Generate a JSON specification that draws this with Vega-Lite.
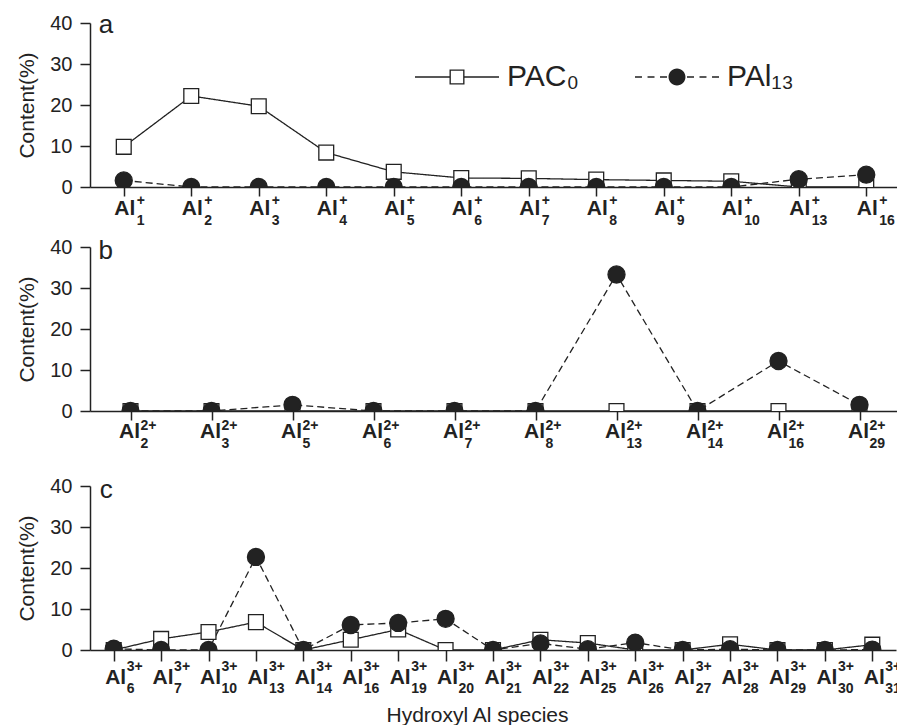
{
  "$schema": "https://vega.github.io/schema/vega-lite/v6.json",
  "padding": {"left": 16, "top": 12, "right": 0, "bottom": 0},
  "background": "white",
  "config": {
    "view": {"stroke": null},
    "font": "Liberation Sans",
    "axis": {"domainColor": "#222", "domainWidth": 1.5, "tickColor": "#222", "tickWidth": 1.5, "labelFont": "Liberation Sans", "titleFont": "Liberation Sans", "labelColor": "#222", "titleColor": "#222", "grid": false}
  },
  "datasets": {
    "a": [
      {"cat": "Al1", "s": "PAC0", "v": 9.8}, {"cat": "Al2", "s": "PAC0", "v": 22.2}, {"cat": "Al3", "s": "PAC0", "v": 19.7}, {"cat": "Al4", "s": "PAC0", "v": 8.4}, {"cat": "Al5", "s": "PAC0", "v": 3.7}, {"cat": "Al6", "s": "PAC0", "v": 2.2}, {"cat": "Al7", "s": "PAC0", "v": 2.1}, {"cat": "Al8", "s": "PAC0", "v": 1.8}, {"cat": "Al9", "s": "PAC0", "v": 1.6}, {"cat": "Al10", "s": "PAC0", "v": 1.4}, {"cat": "Al13", "s": "PAC0", "v": 0}, {"cat": "Al16", "s": "PAC0", "v": 0},
      {"cat": "Al1", "s": "PAl13", "v": 1.6}, {"cat": "Al2", "s": "PAl13", "v": 0}, {"cat": "Al3", "s": "PAl13", "v": 0}, {"cat": "Al4", "s": "PAl13", "v": 0}, {"cat": "Al5", "s": "PAl13", "v": 0}, {"cat": "Al6", "s": "PAl13", "v": 0}, {"cat": "Al7", "s": "PAl13", "v": 0}, {"cat": "Al8", "s": "PAl13", "v": 0}, {"cat": "Al9", "s": "PAl13", "v": 0}, {"cat": "Al10", "s": "PAl13", "v": 0}, {"cat": "Al13", "s": "PAl13", "v": 1.9}, {"cat": "Al16", "s": "PAl13", "v": 3.0}
    ],
    "aLab": [
      {"cat": "Al1", "n": "1", "q": "+"}, {"cat": "Al2", "n": "2", "q": "+"}, {"cat": "Al3", "n": "3", "q": "+"}, {"cat": "Al4", "n": "4", "q": "+"}, {"cat": "Al5", "n": "5", "q": "+"}, {"cat": "Al6", "n": "6", "q": "+"}, {"cat": "Al7", "n": "7", "q": "+"}, {"cat": "Al8", "n": "8", "q": "+"}, {"cat": "Al9", "n": "9", "q": "+"}, {"cat": "Al10", "n": "10", "q": "+"}, {"cat": "Al13", "n": "13", "q": "+"}, {"cat": "Al16", "n": "16", "q": "+"}
    ],
    "b": [
      {"cat": "Al2", "s": "PAC0", "v": 0}, {"cat": "Al3", "s": "PAC0", "v": 0}, {"cat": "Al5", "s": "PAC0", "v": 0}, {"cat": "Al6", "s": "PAC0", "v": 0}, {"cat": "Al7", "s": "PAC0", "v": 0}, {"cat": "Al8", "s": "PAC0", "v": 0}, {"cat": "Al13", "s": "PAC0", "v": 0}, {"cat": "Al14", "s": "PAC0", "v": 0}, {"cat": "Al16", "s": "PAC0", "v": 0}, {"cat": "Al29", "s": "PAC0", "v": 0},
      {"cat": "Al2", "s": "PAl13", "v": 0}, {"cat": "Al3", "s": "PAl13", "v": 0}, {"cat": "Al5", "s": "PAl13", "v": 1.5}, {"cat": "Al6", "s": "PAl13", "v": 0}, {"cat": "Al7", "s": "PAl13", "v": 0}, {"cat": "Al8", "s": "PAl13", "v": 0}, {"cat": "Al13", "s": "PAl13", "v": 33.3}, {"cat": "Al14", "s": "PAl13", "v": 0}, {"cat": "Al16", "s": "PAl13", "v": 12.2}, {"cat": "Al29", "s": "PAl13", "v": 1.5}
    ],
    "bLab": [
      {"cat": "Al2", "n": "2", "q": "2+"}, {"cat": "Al3", "n": "3", "q": "2+"}, {"cat": "Al5", "n": "5", "q": "2+"}, {"cat": "Al6", "n": "6", "q": "2+"}, {"cat": "Al7", "n": "7", "q": "2+"}, {"cat": "Al8", "n": "8", "q": "2+"}, {"cat": "Al13", "n": "13", "q": "2+"}, {"cat": "Al14", "n": "14", "q": "2+"}, {"cat": "Al16", "n": "16", "q": "2+"}, {"cat": "Al29", "n": "29", "q": "2+"}
    ],
    "c": [
      {"cat": "Al6", "s": "PAC0", "v": 0}, {"cat": "Al7", "s": "PAC0", "v": 2.7}, {"cat": "Al10", "s": "PAC0", "v": 4.4}, {"cat": "Al13", "s": "PAC0", "v": 6.8}, {"cat": "Al14", "s": "PAC0", "v": 0}, {"cat": "Al16", "s": "PAC0", "v": 2.5}, {"cat": "Al19", "s": "PAC0", "v": 5.0}, {"cat": "Al20", "s": "PAC0", "v": 0}, {"cat": "Al21", "s": "PAC0", "v": 0}, {"cat": "Al22", "s": "PAC0", "v": 2.5}, {"cat": "Al25", "s": "PAC0", "v": 1.7}, {"cat": "Al26", "s": "PAC0", "v": 0}, {"cat": "Al27", "s": "PAC0", "v": 0}, {"cat": "Al28", "s": "PAC0", "v": 1.4}, {"cat": "Al29", "s": "PAC0", "v": 0}, {"cat": "Al30", "s": "PAC0", "v": 0}, {"cat": "Al31", "s": "PAC0", "v": 1.3},
      {"cat": "Al6", "s": "PAl13", "v": 0.3}, {"cat": "Al7", "s": "PAl13", "v": 0}, {"cat": "Al10", "s": "PAl13", "v": 0}, {"cat": "Al13", "s": "PAl13", "v": 22.7}, {"cat": "Al14", "s": "PAl13", "v": 0}, {"cat": "Al16", "s": "PAl13", "v": 6.1}, {"cat": "Al19", "s": "PAl13", "v": 6.6}, {"cat": "Al20", "s": "PAl13", "v": 7.6}, {"cat": "Al21", "s": "PAl13", "v": 0}, {"cat": "Al22", "s": "PAl13", "v": 1.6}, {"cat": "Al25", "s": "PAl13", "v": 0.2}, {"cat": "Al26", "s": "PAl13", "v": 1.8}, {"cat": "Al27", "s": "PAl13", "v": 0}, {"cat": "Al28", "s": "PAl13", "v": 0.2}, {"cat": "Al29", "s": "PAl13", "v": 0}, {"cat": "Al30", "s": "PAl13", "v": 0}, {"cat": "Al31", "s": "PAl13", "v": 0.1}
    ],
    "cLab": [
      {"cat": "Al6", "n": "6", "q": "3+"}, {"cat": "Al7", "n": "7", "q": "3+"}, {"cat": "Al10", "n": "10", "q": "3+"}, {"cat": "Al13", "n": "13", "q": "3+"}, {"cat": "Al14", "n": "14", "q": "3+"}, {"cat": "Al16", "n": "16", "q": "3+"}, {"cat": "Al19", "n": "19", "q": "3+"}, {"cat": "Al20", "n": "20", "q": "3+"}, {"cat": "Al21", "n": "21", "q": "3+"}, {"cat": "Al22", "n": "22", "q": "3+"}, {"cat": "Al25", "n": "25", "q": "3+"}, {"cat": "Al26", "n": "26", "q": "3+"}, {"cat": "Al27", "n": "27", "q": "3+"}, {"cat": "Al28", "n": "28", "q": "3+"}, {"cat": "Al29", "n": "29", "q": "3+"}, {"cat": "Al30", "n": "30", "q": "3+"}, {"cat": "Al31", "n": "31", "q": "3+"}
    ],
    "panelA": [{"cat": "Al1", "t": "a"}],
    "panelB": [{"cat": "Al2", "t": "b"}],
    "panelC": [{"cat": "Al6", "t": "c"}]
  },
  "resolve": {"scale": {"shape": "independent", "fill": "independent", "strokeDash": "independent", "size": "independent"}},
  "spacing": 25,
  "vconcat": [
    {
      "spacing": 9,
      "resolve": {"scale": {"shape": "independent", "fill": "independent", "strokeDash": "independent", "size": "independent"}},
      "vconcat": [
        {
          "width": 810, "height": 164,
          "resolve": {"scale": {"shape": "independent"}},
          "layer": [
            {
              "data": {"name": "a"},
              "mark": {"type": "line", "clip": true, "color": "#222", "strokeWidth": 1.3},
              "encoding": {
                "x": {"field": "cat", "type": "ordinal", "scale": {"type": "point", "padding": 0.5, "domain": ["Al1","Al2","Al3","Al4","Al5","Al6","Al7","Al8","Al9","Al10","Al13","Al16"]}, "axis": {"title": null, "labels": false, "tickSize": 9, "orient": "bottom"}},
                "y": {"field": "v", "type": "quantitative", "scale": {"domain": [0, 40], "nice": false}, "axis": {"title": "Content(%)", "values": [0,5,10,15,20,25,30,35,40], "labelExpr": "datum.value % 10 === 0 ? datum.label : ''", "tickSize": {"condition": {"test": "datum.value % 10 === 0", "value": 10}, "value": 5}, "labelFontSize": 20, "labelPadding": 8, "titleFontSize": 21, "titleFontWeight": "normal", "titlePadding": 12}},
                "strokeDash": {"field": "s", "type": "nominal", "scale": {"domain": ["PAC0", "PAl13"], "range": [[1, 0], [7, 4]]}, "legend": null}
              }
            },
            {
              "data": {"name": "a"},
              "mark": {"type": "point", "clip": true, "filled": true, "opacity": 1, "stroke": "#222", "strokeWidth": 1.3},
              "encoding": {
                "x": {"field": "cat", "type": "ordinal"},
                "y": {"field": "v", "type": "quantitative"},
                "shape": {"field": "s", "type": "nominal", "scale": {"domain": ["PAC0", "PAl13"], "range": ["square", "circle"]}, "legend": null},
                "fill": {"field": "s", "type": "nominal", "scale": {"domain": ["PAC0", "PAl13"], "range": ["white", "#222"]}, "legend": null},
                "size": {"field": "s", "type": "ordinal", "scale": {"domain": ["PAC0", "PAl13"], "range": [220, 290]}, "legend": null}
              }
            },
            {
              "data": {"name": "a"},
              "mark": {"type": "point", "filled": true, "color": "#222", "opacity": 0, "stroke": "#222", "strokeWidth": 0},
              "encoding": {
                "x": {"field": "cat", "type": "ordinal"},
                "y": {"field": "v", "type": "quantitative"},
                "shape": {"field": "s", "type": "nominal",
                  "scale": {"domain": ["PAC0", "PAl13"], "range": [
                    "M-5.6,-0.09H-1V0.09H-5.6ZM1,-0.09H5.6V0.09H1ZM-1,-1H1V1H-1ZM-0.82,-0.82V0.82H0.82V-0.82Z",
                    "M-5.6,-0.09H-4.67V0.09H-5.6ZM-3.93,-0.09H-3V0.09H-3.93ZM-2.27,-0.09H-1.33V0.09H-2.27ZM1.33,-0.09H2.27V0.09H1.33ZM3,-0.09H3.93V0.09H3ZM4.67,-0.09H5.6V0.09H4.67ZM-1.13,0A1.13,1.13,0,1,0,1.13,0A1.13,1.13,0,1,0,-1.13,0Z"]},
                  "legend": {"title": null, "orient": "none", "legendX": 352, "legendY": 39, "direction": "horizontal", "symbolSize": 225, "symbolOpacity": 1, "symbolStrokeColor": "#222", "symbolFillColor": "#222", "symbolStrokeWidth": 0, "labelFontSize": 30, "labelFont": "Liberation Sans", "labelColor": "#222", "labelOffset": 35, "columnPadding": 56, "labelExpr": "datum.value === 'PAC0' ? 'PAC₀' : 'PAl₁₃'"}
                }
              }
            },
            {
              "data": {"name": "panelA"},
              "mark": {"type": "text", "fontSize": 26, "align": "left", "baseline": "alphabetic", "dx": -25, "dy": 10, "color": "#222"},
              "encoding": {"x": {"field": "cat", "type": "ordinal"}, "y": {"datum": 40}, "text": {"field": "t"}}
            },
            {
              "data": {"name": "aLab"},
              "mark": {"type": "text", "text": "Al", "fontSize": 21, "fontWeight": "bold", "align": "center", "baseline": "alphabetic", "dx": 1, "dy": 27.7, "color": "#222"},
              "encoding": {"x": {"field": "cat", "type": "ordinal"}, "y": {"datum": 0}}
            },
            {
              "data": {"name": "aLab"},
              "mark": {"type": "text", "fontSize": 14, "fontWeight": "bold", "align": "left", "baseline": "alphabetic", "dx": 13, "dy": 18, "color": "#222"},
              "encoding": {"x": {"field": "cat", "type": "ordinal"}, "y": {"datum": 0}, "text": {"field": "q"}}
            },
            {
              "data": {"name": "aLab"},
              "mark": {"type": "text", "fontSize": 14, "fontWeight": "bold", "align": "left", "baseline": "alphabetic", "dx": 13, "dy": 38, "color": "#222"},
              "encoding": {"x": {"field": "cat", "type": "ordinal"}, "y": {"datum": 0}, "text": {"field": "n"}}
            }
          ]
        },
        {
          "width": 810, "height": 164,
          "layer": [
            {
              "data": {"name": "b"},
              "mark": {"type": "line", "clip": true, "color": "#222", "strokeWidth": 1.3},
              "encoding": {
                "x": {"field": "cat", "type": "ordinal", "scale": {"type": "point", "padding": 0.5, "domain": ["Al2","Al3","Al5","Al6","Al7","Al8","Al13","Al14","Al16","Al29"]}, "axis": {"title": null, "labels": false, "tickSize": 9, "orient": "bottom"}},
                "y": {"field": "v", "type": "quantitative", "scale": {"domain": [0, 40], "nice": false}, "axis": {"title": "Content(%)", "values": [0,5,10,15,20,25,30,35,40], "labelExpr": "datum.value % 10 === 0 ? datum.label : ''", "tickSize": {"condition": {"test": "datum.value % 10 === 0", "value": 10}, "value": 5}, "labelFontSize": 20, "labelPadding": 8, "titleFontSize": 21, "titleFontWeight": "normal", "titlePadding": 12}},
                "strokeDash": {"field": "s", "type": "nominal", "scale": {"domain": ["PAC0", "PAl13"], "range": [[1, 0], [7, 4]]}, "legend": null}
              }
            },
            {
              "data": {"name": "b"},
              "mark": {"type": "point", "clip": true, "filled": true, "opacity": 1, "stroke": "#222", "strokeWidth": 1.3},
              "encoding": {
                "x": {"field": "cat", "type": "ordinal"},
                "y": {"field": "v", "type": "quantitative"},
                "shape": {"field": "s", "type": "nominal", "scale": {"domain": ["PAC0", "PAl13"], "range": ["square", "circle"]}, "legend": null},
                "fill": {"field": "s", "type": "nominal", "scale": {"domain": ["PAC0", "PAl13"], "range": ["white", "#222"]}, "legend": null},
                "size": {"field": "s", "type": "ordinal", "scale": {"domain": ["PAC0", "PAl13"], "range": [220, 290]}, "legend": null}
              }
            },
            {
              "data": {"name": "panelB"},
              "mark": {"type": "text", "fontSize": 26, "align": "left", "baseline": "alphabetic", "dx": -32, "dy": 12, "color": "#222"},
              "encoding": {"x": {"field": "cat", "type": "ordinal"}, "y": {"datum": 40}, "text": {"field": "t"}}
            },
            {
              "data": {"name": "bLab"},
              "mark": {"type": "text", "text": "Al", "fontSize": 21, "fontWeight": "bold", "align": "center", "baseline": "alphabetic", "dx": -1, "dy": 26.5, "color": "#222"},
              "encoding": {"x": {"field": "cat", "type": "ordinal"}, "y": {"datum": 0}}
            },
            {
              "data": {"name": "bLab"},
              "mark": {"type": "text", "fontSize": 14, "fontWeight": "bold", "align": "left", "baseline": "alphabetic", "dx": 10, "dy": 19, "color": "#222"},
              "encoding": {"x": {"field": "cat", "type": "ordinal"}, "y": {"datum": 0}, "text": {"field": "q"}}
            },
            {
              "data": {"name": "bLab"},
              "mark": {"type": "text", "fontSize": 14, "fontWeight": "bold", "align": "left", "baseline": "alphabetic", "dx": 10, "dy": 37, "color": "#222"},
              "encoding": {"x": {"field": "cat", "type": "ordinal"}, "y": {"datum": 0}, "text": {"field": "n"}}
            }
          ]
        }
      ]
    },
    {
      "width": 806, "height": 164,
      "layer": [
        {
          "data": {"name": "c"},
          "mark": {"type": "line", "clip": true, "color": "#222", "strokeWidth": 1.3},
          "encoding": {
            "x": {"field": "cat", "type": "ordinal", "scale": {"type": "point", "padding": 0.5, "domain": ["Al6","Al7","Al10","Al13","Al14","Al16","Al19","Al20","Al21","Al22","Al25","Al26","Al27","Al28","Al29","Al30","Al31"]}, "axis": {"title": "Hydroxyl Al species", "labels": false, "tickSize": 11, "orient": "bottom", "titleFontSize": 21, "titleFontWeight": "normal", "titleX": 387, "titleY": 71, "titleBaseline": "alphabetic"}},
            "y": {"field": "v", "type": "quantitative", "scale": {"domain": [0, 40], "nice": false}, "axis": {"title": "Content(%)", "values": [0,5,10,15,20,25,30,35,40], "labelExpr": "datum.value % 10 === 0 ? datum.label : ''", "tickSize": {"condition": {"test": "datum.value % 10 === 0", "value": 10}, "value": 5}, "labelFontSize": 20, "labelPadding": 8, "titleFontSize": 21, "titleFontWeight": "normal", "titlePadding": 12}},
            "strokeDash": {"field": "s", "type": "nominal", "scale": {"domain": ["PAC0", "PAl13"], "range": [[1, 0], [7, 4]]}, "legend": null}
          }
        },
        {
          "data": {"name": "c"},
          "mark": {"type": "point", "clip": true, "filled": true, "opacity": 1, "stroke": "#222", "strokeWidth": 1.3},
          "encoding": {
            "x": {"field": "cat", "type": "ordinal"},
            "y": {"field": "v", "type": "quantitative"},
            "shape": {"field": "s", "type": "nominal", "scale": {"domain": ["PAC0", "PAl13"], "range": ["square", "circle"]}, "legend": null},
            "fill": {"field": "s", "type": "nominal", "scale": {"domain": ["PAC0", "PAl13"], "range": ["white", "#222"]}, "legend": null},
            "size": {"field": "s", "type": "ordinal", "scale": {"domain": ["PAC0", "PAl13"], "range": [220, 290]}, "legend": null}
          }
        },
        {
          "data": {"name": "panelC"},
          "mark": {"type": "text", "fontSize": 26, "align": "left", "baseline": "alphabetic", "dx": -14, "dy": 12, "color": "#222"},
          "encoding": {"x": {"field": "cat", "type": "ordinal"}, "y": {"datum": 40}, "text": {"field": "t"}}
        },
        {
          "data": {"name": "cLab"},
          "mark": {"type": "text", "text": "Al", "fontSize": 21, "fontWeight": "bold", "align": "center", "baseline": "alphabetic", "dx": 2, "dy": 34, "color": "#222"},
          "encoding": {"x": {"field": "cat", "type": "ordinal"}, "y": {"datum": 0}}
        },
        {
          "data": {"name": "cLab"},
          "mark": {"type": "text", "fontSize": 14, "fontWeight": "bold", "align": "left", "baseline": "alphabetic", "dx": 13, "dy": 21, "color": "#222"},
          "encoding": {"x": {"field": "cat", "type": "ordinal"}, "y": {"datum": 0}, "text": {"field": "q"}}
        },
        {
          "data": {"name": "cLab"},
          "mark": {"type": "text", "fontSize": 14, "fontWeight": "bold", "align": "left", "baseline": "alphabetic", "dx": 13, "dy": 43, "color": "#222"},
          "encoding": {"x": {"field": "cat", "type": "ordinal"}, "y": {"datum": 0}, "text": {"field": "n"}}
        }
      ]
    }
  ]
}
